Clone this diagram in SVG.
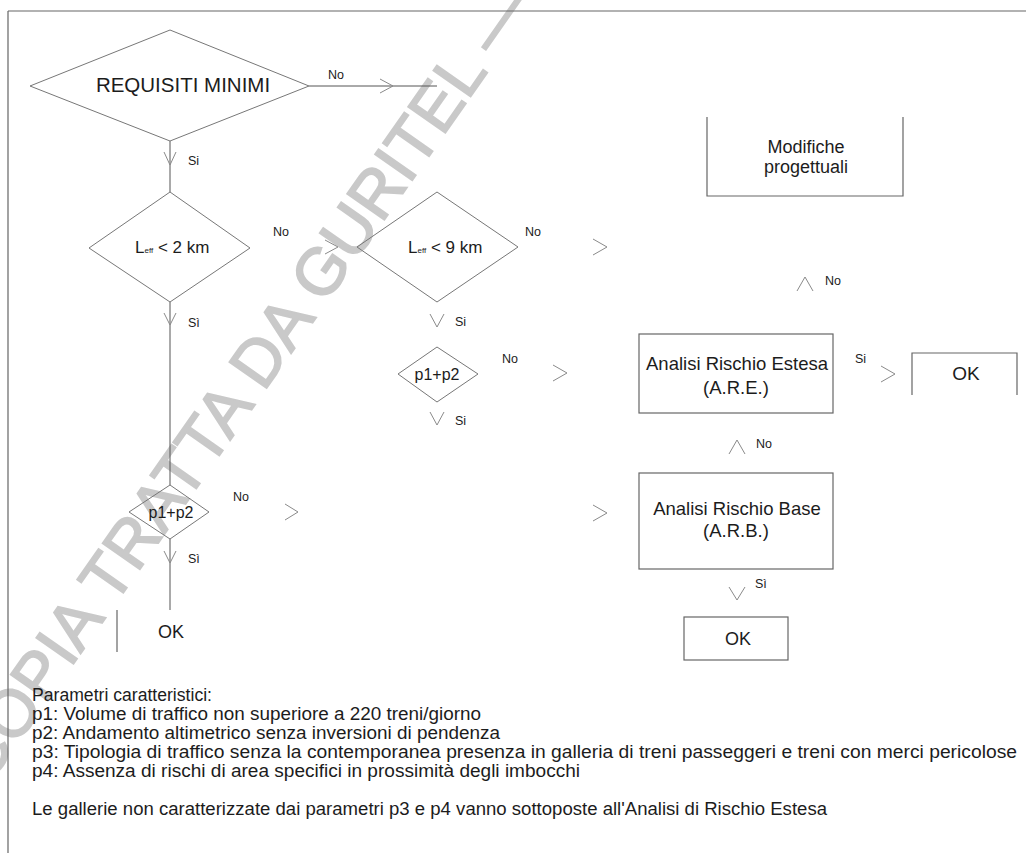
<svg xmlns="http://www.w3.org/2000/svg" width="1026" height="853" viewBox="0 0 1026 853">
<style>
.t{font-family:"Liberation Sans",Arial,sans-serif;fill:#1c1c1c}
.lbl{font-size:12.5px}
.ln{stroke:#555;stroke-width:1;fill:none}
.frame{stroke:#666;stroke-width:1.2;fill:none}
.shp{stroke:#777;stroke-width:1;fill:none}
.box{stroke:#666;stroke-width:1.2;fill:none}
.chev{stroke:#8a8a8a;stroke-width:1;fill:none}
.wm{font-family:"Liberation Sans",Arial,sans-serif;font-size:66px;fill:#c9c9c9;stroke:#c9c9c9;stroke-width:1.8}
.note{font-family:"Liberation Sans",Arial,sans-serif;font-size:17.5px;fill:#1c1c1c}
</style>
<rect width="1026" height="853" fill="#fff"/>
<text class="wm" transform="translate(-12,786) rotate(-55)">COPIA TRATTA DA GURITEL —</text>
<g id="frame">
<path class="frame" d="M8,11 H1026 M8,11 V853"/>
</g>
<g id="connectors">
<path class="ln" d="M309,86 H437"/>
<path class="ln" d="M170,141 V192"/>
<path class="ln" d="M170,302 V485"/>
<path class="ln" d="M170,539 V610"/>
<polyline class="chev" points="380,79 393,86 380,93"/>
<polyline class="chev" points="164,152 170,165 176,152"/>
<polyline class="chev" points="325,240 338,247 325,254"/>
<polyline class="chev" points="593,239 607,247 593,255"/>
<polyline class="chev" points="797,291 805,277 813,291"/>
<polyline class="chev" points="164,313 170,325 176,313"/>
<polyline class="chev" points="430,314 437,327 444,314"/>
<polyline class="chev" points="430,412 437,425 444,412"/>
<polyline class="chev" points="553,365 567,373 553,381"/>
<polyline class="chev" points="881,366 895,374 881,382"/>
<polyline class="chev" points="729,454 737,440 745,454"/>
<polyline class="chev" points="285,504 298,512 285,520"/>
<polyline class="chev" points="593,505 607,513 593,521"/>
<polyline class="chev" points="164,551 170,563 176,551"/>
<polyline class="chev" points="729,587 737,600 745,587"/>
<text class="t lbl" x="328" y="79">No</text>
<text class="t lbl" x="188" y="165">Si</text>
<text class="t lbl" x="273" y="236">No</text>
<text class="t lbl" x="525" y="236">No</text>
<text class="t lbl" x="825" y="285">No</text>
<text class="t lbl" x="188" y="327">Sì</text>
<text class="t lbl" x="455" y="326">Si</text>
<text class="t lbl" x="502" y="363">No</text>
<text class="t lbl" x="855" y="363">Si</text>
<text class="t lbl" x="455" y="425">Si</text>
<text class="t lbl" x="756" y="448">No</text>
<text class="t lbl" x="233" y="501">No</text>
<text class="t lbl" x="188" y="563">Sì</text>
<text class="t lbl" x="755" y="588">Sì</text>
</g>
<g id="requisiti">
<polygon class="shp" points="30,86 170,30 309,86 170,141"/>
<text class="t" x="183" y="92" font-size="20.5" text-anchor="middle">REQUISITI MINIMI</text>
</g>
<g id="leff2">
<polygon class="shp" points="89,248 170,192 250,248 170,302"/>
<text class="t" x="135" y="253"><tspan font-size="17">L</tspan><tspan font-size="8">eff</tspan><tspan font-size="17"> &lt; 2 km</tspan></text>
</g>
<g id="leff9">
<polygon class="shp" points="357,247 437,192 518,247 437,302"/>
<text class="t" x="408" y="253"><tspan font-size="17">L</tspan><tspan font-size="8">eff</tspan><tspan font-size="17"> &lt; 9 km</tspan></text>
</g>
<g id="p1p2-right">
<polygon class="shp" points="398,374 437,347 478,374 437,402"/>
<text class="t" x="437" y="380" font-size="16" text-anchor="middle">p1+p2</text>
</g>
<g id="p1p2-left">
<polygon class="shp" points="129,512 170,485 209,512 170,539"/>
<text class="t" x="171" y="518" font-size="16" text-anchor="middle">p1+p2</text>
</g>
<g id="ok-left">
<path class="box" d="M117,610 V652"/>
<text class="t" x="171" y="638" font-size="18" text-anchor="middle">OK</text>
</g>
<g id="modifiche">
<path class="box" d="M707,117 V196 H903 V117"/>
<text class="t" x="806" y="153" font-size="18" text-anchor="middle">Modifiche</text>
<text class="t" x="806" y="173" font-size="18" text-anchor="middle">progettuali</text>
</g>
<g id="are">
<rect class="box" x="639" y="334" width="194" height="79"/>
<text class="t" x="737" y="370" font-size="18.5" text-anchor="middle">Analisi Rischio Estesa</text>
<text class="t" x="736" y="394" font-size="18.5" text-anchor="middle">(A.R.E.)</text>
</g>
<g id="ok-are">
<path class="box" d="M912,395 V353 H1017 V395"/>
<text class="t" x="966" y="380" font-size="19" text-anchor="middle">OK</text>
</g>
<g id="arb">
<rect class="box" x="639" y="473" width="194" height="96"/>
<text class="t" x="737" y="515" font-size="18.5" text-anchor="middle">Analisi Rischio Base</text>
<text class="t" x="736" y="537" font-size="18.5" text-anchor="middle">(A.R.B.)</text>
</g>
<g id="ok-arb">
<rect class="box" x="684" y="617" width="104" height="43"/>
<text class="t" x="738" y="645" font-size="18" text-anchor="middle">OK</text>
</g>
<g id="notes">
<text class="note" x="32" y="701" textLength="180" lengthAdjust="spacingAndGlyphs">Parametri caratteristici:</text>
<text class="note" x="32" y="720" textLength="449" lengthAdjust="spacingAndGlyphs">p1: Volume di traffico non superiore a 220 treni/giorno</text>
<text class="note" x="32" y="739" textLength="468" lengthAdjust="spacingAndGlyphs">p2: Andamento altimetrico senza inversioni di pendenza</text>
<text class="note" x="32" y="758" textLength="985" lengthAdjust="spacingAndGlyphs">p3: Tipologia di traffico senza la contemporanea presenza in galleria di treni passeggeri e treni con merci pericolose</text>
<text class="note" x="32" y="777" textLength="548" lengthAdjust="spacingAndGlyphs">p4: Assenza di rischi di area specifici in prossimità degli imbocchi</text>
<text class="note" x="32" y="815" textLength="795" lengthAdjust="spacingAndGlyphs">Le gallerie non caratterizzate dai parametri p3 e p4 vanno sottoposte all'Analisi di Rischio Estesa</text>
</g>
</svg>
